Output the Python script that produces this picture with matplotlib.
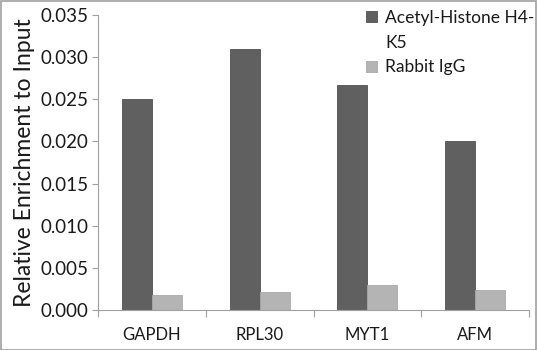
import numpy as np
import matplotlib.pyplot as plt
from matplotlib.patches import Rectangle

# Data
genes = ['GAPDH', 'RPL30', 'MYT1', 'AFM']
acetyl_h4k5 = [0.0250, 0.0310, 0.0267, 0.0201]
rabbit_igg = [0.0018, 0.0021, 0.0030, 0.0024]
series_names = ['Acetyl-Histone H4-', 'K5', 'Rabbit IgG']  # first name wraps onto 2 rows
yticks = [0.000, 0.005, 0.010, 0.015, 0.020, 0.025, 0.030, 0.035]

plt.rcParams['font.family'] = ['Lato', 'DejaVu Sans']
txt = '#1a1a1a'

fig = plt.figure(figsize=(5.37, 3.5), dpi=100)
ax = fig.add_axes([98 / 537, 1 - 310 / 350, 431 / 537, 295 / 350])

x = np.arange(len(genes))
w = 0.278
b1 = ax.bar(x - w / 2, acetyl_h4k5, w, color='#606060', edgecolor='#505050', linewidth=0.6)
b2 = ax.bar(x + w / 2, rabbit_igg, w, color='#b4b4b4', edgecolor='#a8a8a8', linewidth=0.6)

ax.set_xlim(-0.5, len(genes) - 0.5)
ax.set_ylim(0, 0.035)
ax.set_yticks(yticks)
ax.set_yticklabels([f'{v:.3f}' for v in yticks])
ax.set_xticks(x)
ax.set_xticklabels(genes)
ax.set_xticks(np.arange(len(genes) + 1) - 0.5, minor=True)
ax.tick_params(axis='x', which='major', length=0, pad=12, labelsize=12, labelcolor=txt)
ax.tick_params(axis='x', which='minor', length=5, color='#a0a0a0', width=0.8)
ax.tick_params(axis='y', length=4, color='#a0a0a0', width=0.8, labelsize=13.5, pad=3,
               labelcolor=txt)

for side in ['top', 'right']:
    ax.spines[side].set_visible(False)
for side in ['left', 'bottom']:
    ax.spines[side].set_color('#a0a0a0')
    ax.spines[side].set_linewidth(0.8)

ax.set_ylabel('Relative Enrichment to Input', fontsize=16.5, labelpad=4, color=txt)

blank = Rectangle((0, 0), 1, 1, alpha=0)
leg = ax.legend([b1, blank, b2], series_names, loc='upper left',
                bbox_to_anchor=(263 / 431, 1.035), frameon=False,
                fontsize=12.5, handlelength=0.6, handleheight=0.6, handletextpad=0.5,
                labelspacing=0.5, borderaxespad=0, borderpad=0.3)
for t in leg.get_texts():
    t.set_color(txt)

# gray border around the whole image
fig.patches.append(Rectangle((0.001, 0.001), 0.997, 0.996, transform=fig.transFigure,
                             fill=False, edgecolor='#a0a0a0', linewidth=1.2))

fig.savefig('out.png', dpi=100)
